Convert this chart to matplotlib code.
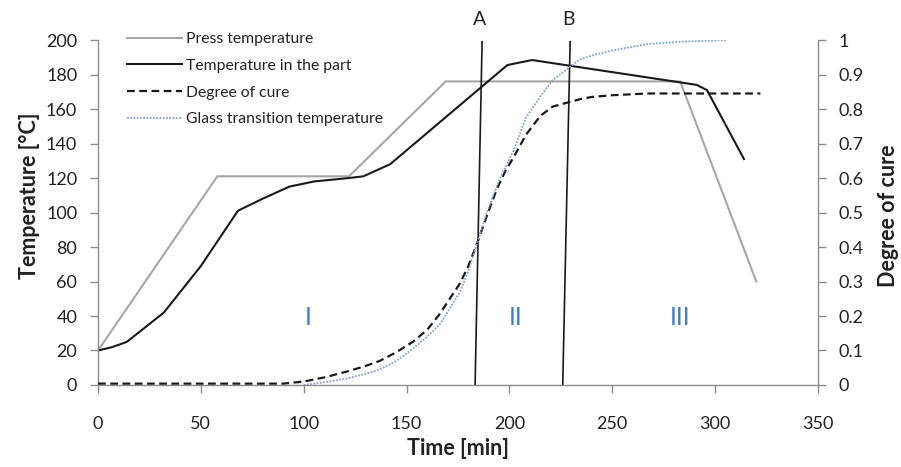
import matplotlib
matplotlib.use('Agg')
import matplotlib.pyplot as plt

plt.rcParams['font.family'] = ['Lato', 'DejaVu Sans']

# press temperature [deg C] vs time [min]
press_time = [0, 58, 122, 169, 283, 320]
press_temp = [20, 121, 121, 176, 176, 60]

# temperature measured in the part
part_time = [0, 7, 14, 32, 50, 68, 80, 93, 105, 122, 129, 142, 199, 211, 281, 291, 296, 314]
part_temp = [20, 22, 25, 42, 69, 101, 108, 115, 118, 120, 121, 128, 185.5, 188.4, 175.8, 174, 171, 131]

# degree of cure (right axis)
cure_time = [0, 90, 100, 110, 121, 130, 137, 145, 153, 160, 166, 171, 176, 180, 184,
             189, 194, 198, 202, 208, 215, 221, 229, 234, 240, 250, 267, 290, 322]
cure = [0.004, 0.004, 0.01, 0.022, 0.039, 0.055, 0.07, 0.095, 0.125, 0.16, 0.205, 0.25, 0.295, 0.345, 0.406,
        0.49, 0.57, 0.62, 0.66, 0.725, 0.78, 0.807, 0.82, 0.828, 0.835, 0.84, 0.845, 0.845, 0.845]

# glass transition temperature (drawn on the right axis scale)
tg_time = [100, 110, 121, 130, 137, 145, 153, 160, 166, 171, 176, 180, 184, 189, 195,
           202, 208, 215, 221, 229, 234, 240, 250, 267, 283, 306]
tg = [0.0, 0.008, 0.019, 0.032, 0.045, 0.07, 0.105, 0.14, 0.175, 0.222, 0.27, 0.33, 0.405, 0.5, 0.594,
      0.68, 0.775, 0.836, 0.884, 0.92, 0.943, 0.955, 0.97, 0.988, 0.995, 1.0]

# phase boundaries A and B (slightly slanted lines)
line_a_time = [183.3, 186.7]
line_b_time = [225.9, 229.5]
line_temp = [0, 199]

phase_labels = ['I', 'II', 'III']
phase_time = [102, 203, 283]

text_col = '#222222'
axis_col = '#8c8c8c'

fig = plt.figure(figsize=(9.01, 4.67), dpi=100)
ax = fig.add_axes([0.1088, 0.1756, 0.7991, 0.7387])
ax2 = ax.twinx()

l1, = ax.plot(press_time, press_temp, color='#a6a6a6', lw=1.5, label='Press temperature')
l2, = ax.plot(part_time, part_temp, color='#1a1a1a', lw=1.5, label='Temperature in the part')
l3, = ax2.plot(cure_time, cure, color='#1a1a1a', lw=1.6, dashes=(3.5, 2), label='Degree of cure')
l4, = ax2.plot(tg_time, tg, color='#7fa3d4', lw=1.3, dashes=(1, 0.8), label='Glass transition temperature')

ax.plot(line_a_time, line_temp, color='#1a1a1a', lw=1.2, clip_on=False)
ax.plot(line_b_time, line_temp, color='#1a1a1a', lw=1.2, clip_on=False)
ax.text(185.7, 212, 'A', fontsize=14, color=text_col, ha='center', va='center', clip_on=False)
ax.text(228.5, 212, 'B', fontsize=14, color=text_col, ha='center', va='center', clip_on=False)

for lab, t in zip(phase_labels, phase_time):
    ax.text(t, 39, lab, fontsize=18, color='#3f7fbf', ha='center', va='center')

ax.set_xlim(0, 350)
ax.set_ylim(0, 200)
ax2.set_ylim(0, 1)
ax.set_xticks(range(0, 351, 50))
ax.set_yticks(range(0, 201, 20))
ax2.set_yticks([i / 10 for i in range(11)])
ax2.set_yticklabels(['0'] + ['0.%d' % i for i in range(1, 10)] + ['1'])

for a in (ax, ax2):
    a.spines['top'].set_visible(False)
    for s in ('left', 'bottom', 'right'):
        a.spines[s].set_color(axis_col)
        a.spines[s].set_linewidth(1.0)
    a.tick_params(colors=axis_col, labelcolor=text_col, labelsize=13, length=6, width=1.0)
ax.spines['right'].set_visible(False)
ax2.spines['left'].set_visible(False)
ax2.spines['bottom'].set_visible(False)
ax.tick_params(axis='x', pad=16)
ax.tick_params(axis='y', pad=9)
ax2.tick_params(axis='y', pad=9)

ax.set_xlabel('Time [min]', fontsize=15.5, fontweight='bold', color=text_col)
ax.set_ylabel('Temperature [°C]', fontsize=15.5, fontweight='bold', color=text_col)
ax2.set_ylabel('Degree of cure', fontsize=15.5, fontweight='bold', color=text_col, rotation=90)
ax.xaxis.set_label_coords(0.5, -0.155)
ax.yaxis.set_label_coords(-0.08, 0.548)
ax2.yaxis.set_label_coords(1.083, 0.49)

ax.legend(handles=[l1, l2, l3, l4], loc='upper left', bbox_to_anchor=(0.04, 1.022),
          frameon=False, fontsize=11.3, handlelength=3.5, handletextpad=0.25,
          labelspacing=0.8, borderpad=0, borderaxespad=0, labelcolor=text_col)

fig.savefig('out.png', dpi=100)
